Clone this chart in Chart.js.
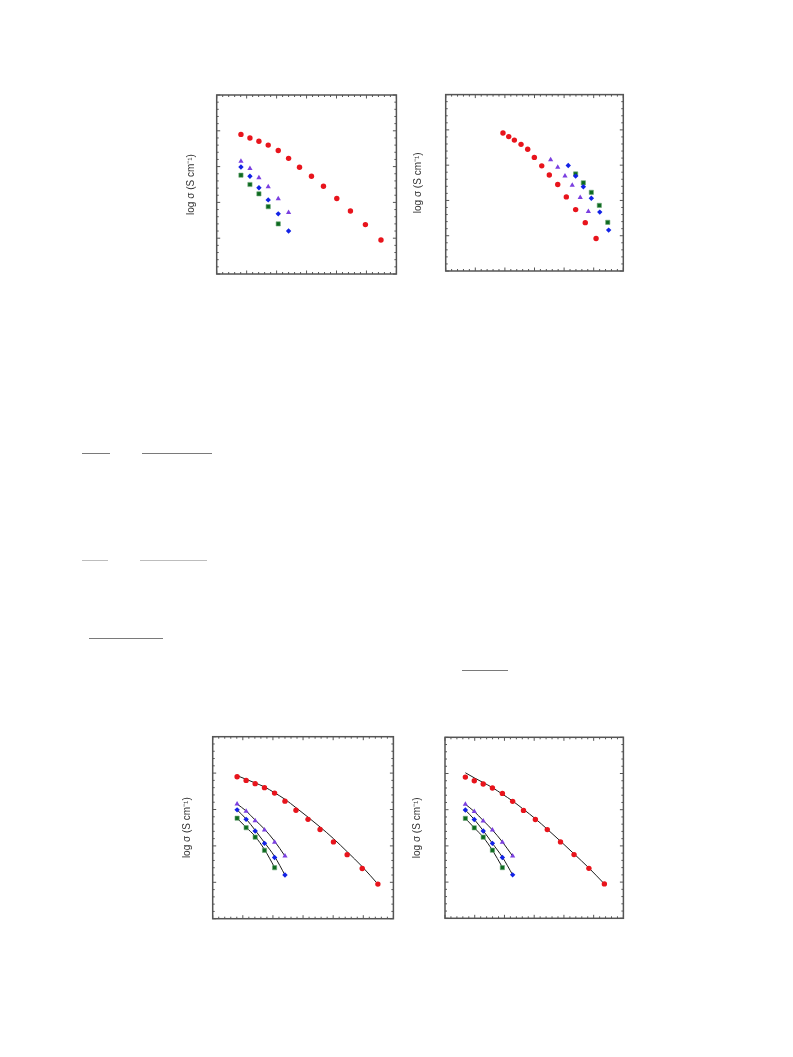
<!DOCTYPE html>
<html>
<head>
<meta charset="utf-8">
<script src="https://cdn.jsdelivr.net/npm/chart.js@4.4.0/dist/chart.umd.min.js"></script>
<style>
body { margin: 0; background: #fff; width: 793px; height: 1057px; position: relative; overflow: hidden; }
canvas { position: absolute; }
.rule { position: absolute; height: 1px; background: #7a7a7a; }
</style>
</head>
<body>
<canvas id="c1" width="216" height="189" style="left:185px;top:90px"></canvas>
<canvas id="c2" width="216" height="186" style="left:412px;top:90px"></canvas>
<canvas id="c3" width="217" height="193" style="left:181px;top:731px"></canvas>
<canvas id="c4" width="217" height="191" style="left:411px;top:732px"></canvas>

<div class="rule" style="left:82px;top:453px;width:28px"></div>
<div class="rule" style="left:142px;top:453px;width:70px"></div>
<div class="rule" style="left:82px;top:560px;width:26px;background:#bdbdbd"></div>
<div class="rule" style="left:140px;top:560px;width:67px;background:#bdbdbd"></div>
<div class="rule" style="left:89px;top:638px;width:74px"></div>
<div class="rule" style="left:462px;top:670px;width:46px"></div>

<script>
// 1000/T values and log sigma
const xT = [2.762, 2.822, 2.882, 2.944, 3.011, 3.080, 3.153, 3.233, 3.313, 3.402, 3.493, 3.593, 3.697];
const redLogS = [-3.10, -3.20, -3.29, -3.40, -3.55, -3.77, -4.02, -4.27, -4.55, -4.89, -5.24, -5.62, -6.05];
const purpleLogS = [-3.85, -4.05, -4.31, -4.56, -4.90, -5.28];
const blueLogS = [-4.01, -4.27, -4.59, -4.93, -5.32, -5.80];
const greenLogS = [-4.24, -4.50, -4.76, -5.12, -5.60];

// second panel (shifted abscissa)
const xRed2 = [2.987, 3.026, 3.064, 3.109, 3.154, 3.199, 3.249, 3.300, 3.357, 3.415, 3.478, 3.543, 3.616];
const red2 = [-3.09, -3.19, -3.29, -3.41, -3.55, -3.78, -4.02, -4.28, -4.55, -4.90, -5.26, -5.63, -6.08];
const xPurple2 = [3.309, 3.357, 3.406, 3.455, 3.509, 3.564];
const purple2 = [-3.85, -4.06, -4.31, -4.57, -4.92, -5.31];
const xBlue2 = [3.428, 3.478, 3.530, 3.584, 3.641, 3.701];
const blue2 = [-4.01, -4.31, -4.61, -4.94, -5.33, -5.84];
const xGreen2 = [3.478, 3.530, 3.584, 3.638, 3.695];
const green2 = [-4.25, -4.50, -4.77, -5.14, -5.62];

// fitted curves, third panel
const redFit3 = [-3.07, -3.17, -3.27, -3.38, -3.54, -3.72, -3.95, -4.21, -4.48, -4.80, -5.16, -5.57, -6.05];
const purpleFit3 = [-3.85, -4.04, -4.29, -4.54, -4.87, -5.28];
const blueFit3 = [-4.01, -4.26, -4.57, -4.91, -5.29, -5.80];
const greenFit3 = [-4.24, -4.49, -4.74, -5.10, -5.59];

// fitted lines, fourth panel
const redFit4 = [-2.98, -3.12, -3.25, -3.39, -3.57, -3.76, -3.99, -4.25, -4.54, -4.87, -5.22, -5.61, -6.05];
const purpleFit4 = [-3.85, -4.05, -4.30, -4.56, -4.89, -5.28];
const blueFit4 = [-4.01, -4.27, -4.58, -4.93, -5.31, -5.80];
const greenFit4 = [-4.24, -4.50, -4.76, -5.12, -5.59];

const yTitle = 'log σ (S cm⁻¹)';

function pts(xs, ys) {
    return ys.map(function(v, i) { return {x: xs[i], y: v}; });
}

function markers(red, purple, blue, green) {
    return [
        {data: red, pointStyle: 'circle', pointRadius: 2.7, backgroundColor: '#e8141c', borderWidth: 0, order: 1},
        {data: purple, pointStyle: 'triangle', pointRadius: 3, backgroundColor: '#7b3fe0', borderWidth: 0, order: 1},
        {data: blue, pointStyle: 'rectRot', pointRadius: 2.7, backgroundColor: '#1222e6', borderWidth: 0, order: 1},
        {data: green, pointStyle: 'rect', pointRadius: 3, backgroundColor: '#0d6a1f', borderColor: '#6fa878', borderWidth: 0.6, order: 1}
    ];
}

function fitLine(data) {
    return {data: data, showLine: true, pointRadius: 0, borderColor: '#1a1a1a', borderWidth: 1,
            cubicInterpolationMode: 'monotone', order: 2};
}

// inward ticks on all four sides plus the frame
const frameTicks = {
    id: 'frameTicks',
    afterDraw(chart) {
        const ctx = chart.ctx;
        const a = chart.chartArea;
        const sx = chart.scales.x, sy = chart.scales.y;
        ctx.save();
        ctx.strokeStyle = '#555';
        ctx.lineWidth = 1;
        ctx.beginPath();
        for (let i = 0; i <= 30; i++) {
            const px = sx.getPixelForValue(sx.min + i * 0.04);
            const len = i % 5 === 0 ? 3.5 : 2;
            ctx.moveTo(px, a.bottom); ctx.lineTo(px, a.bottom - len);
            ctx.moveTo(px, a.top); ctx.lineTo(px, a.top + len);
        }
        for (let i = 0; i <= 25; i++) {
            const py = sy.getPixelForValue(sy.min + i * 0.2);
            const len = i % 5 === 0 ? 3.5 : 2;
            ctx.moveTo(a.left, py); ctx.lineTo(a.left + len, py);
            ctx.moveTo(a.right, py); ctx.lineTo(a.right - len, py);
        }
        ctx.stroke();
        ctx.lineWidth = 1.5;
        ctx.strokeRect(a.left, a.top, a.right - a.left, a.bottom - a.top);
        ctx.restore();
    }
};

function makeChart(id, datasets, pad, titleGap, xMin, xMax) {
    return new Chart(document.getElementById(id), {
        type: 'scatter',
        data: {datasets: datasets},
        options: {
            responsive: false,
            animation: false,
            layout: {padding: pad},
            plugins: {legend: {display: false}, tooltip: {enabled: false}},
            scales: {
                x: {display: false, min: xMin, max: xMax},
                y: {
                    min: -7, max: -2,
                    grid: {display: false},
                    border: {display: false},
                    ticks: {display: false},
                    title: {
                        display: true, text: yTitle, color: '#333',
                        font: {family: 'Liberation Sans', size: 10},
                        padding: {top: 0, bottom: titleGap}
                    }
                }
            }
        },
        plugins: [frameTicks]
    });
}

const xS = xT.slice(0, 6);
const xG = xT.slice(0, 5);

makeChart('c1', markers(pts(xT, redLogS), pts(xS, purpleLogS), pts(xS, blueLogS), pts(xG, greenLogS)),
    {top: 5, right: 4, bottom: 5, left: 0}, 11.7, 2.6, 3.8);

makeChart('c2', markers(pts(xRed2, red2), pts(xPurple2, purple2), pts(xBlue2, blue2), pts(xGreen2, green2)),
    {top: 4.3, right: 4.7, bottom: 5, left: 0}, 13.7, 2.6, 3.8);

makeChart('c3', markers(pts(xT, redLogS), pts(xS, purpleLogS), pts(xS, blueLogS), pts(xG, greenLogS)).concat([
    fitLine(pts(xT, redFit3)), fitLine(pts(xS, purpleFit3)), fitLine(pts(xS, blueFit3)), fitLine(pts(xG, greenFit3))
]), {top: 5.7, right: 4, bottom: 5.3, left: 0}, 11.7, 2.6, 3.8);

makeChart('c4', markers(pts(xT, redLogS), pts(xS, purpleLogS), pts(xS, blueLogS), pts(xG, greenLogS)).concat([
    fitLine(pts(xT, redFit4)), fitLine(pts(xS, purpleFit4)), fitLine(pts(xS, blueFit4)), fitLine(pts(xG, greenFit4))
]), {top: 5.3, right: 4, bottom: 4.7, left: 0}, 14, 2.625, 3.825);
</script>
</body>
</html>
